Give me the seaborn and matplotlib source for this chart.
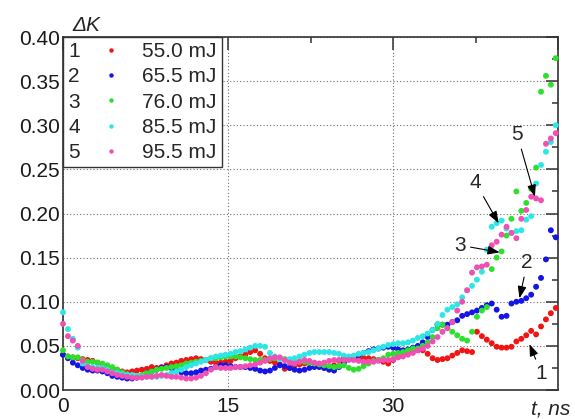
import numpy as np
import pandas as pd
import matplotlib
matplotlib.use("Agg")
import matplotlib.pyplot as plt
import seaborn as sns
from matplotlib.lines import Line2D
from matplotlib.ticker import MultipleLocator

# ---------------- data ----------------
dt_ns = 0.448
t = np.arange(101) * dt_ns

labels_num = ["1", "2", "3", "4", "5"]
energies = ["55.0 mJ", "65.5 mJ", "76.0 mJ", "85.5 mJ", "95.5 mJ"]
colors = ["#f01414", "#1414e6", "#2ee02e", "#2ee6e6", "#f050b4"]

k1 = [0.040, 0.038, 0.037, 0.036, 0.035, 0.034, 0.033, 0.031, 0.029, 0.027,
      0.025, 0.023, 0.021, 0.020, 0.021, 0.022, 0.023, 0.024, 0.026, 0.025,
      0.026, 0.028, 0.030, 0.031, 0.033, 0.034, 0.035, 0.036, 0.035, 0.034,
      0.032, 0.031, 0.031, 0.032, 0.033, 0.036, 0.038, 0.040, 0.043, 0.045,
      0.041, 0.036, 0.033, 0.031, 0.029, 0.024, 0.025, 0.028, 0.029, 0.030,
      0.031, 0.030, 0.027, 0.025, 0.024, 0.028, 0.033, 0.036, 0.037, 0.038,
      0.037, 0.036, 0.036, 0.035, 0.034, 0.032, 0.030, 0.034, 0.038, 0.042,
      0.043, 0.044, 0.045, 0.045, 0.041, 0.036, 0.034, 0.035, 0.036, 0.039,
      0.042, 0.045, 0.044, 0.043, 0.066, 0.061, 0.057, 0.053, 0.049, 0.048,
      0.048, 0.049, 0.055, 0.058, 0.062, 0.067, 0.063, 0.072, 0.080, 0.087, 0.093]

k2 = [0.040, 0.036, 0.031, 0.028, 0.025, 0.023, 0.022, 0.022, 0.021, 0.019,
      0.016, 0.015, 0.014, 0.013, 0.013, 0.014, 0.016, 0.019, 0.021, 0.023,
      0.025, 0.026, 0.025, 0.022, 0.020, 0.019, 0.019, 0.020, 0.022, 0.023,
      0.024, 0.026, 0.028, 0.028, 0.027, 0.026, 0.026, 0.026, 0.025, 0.024,
      0.022, 0.021, 0.022, 0.025, 0.028, 0.027, 0.025, 0.023, 0.022, 0.023,
      0.025, 0.026, 0.026, 0.025, 0.023, 0.022, 0.026, 0.031, 0.035, 0.037,
      0.040, 0.042, 0.044, 0.046, 0.047, 0.048, 0.049, 0.048, 0.046, 0.045,
      0.046, 0.048, 0.050, 0.054, 0.060, 0.068, 0.074, 0.074, 0.074, 0.077,
      0.079, 0.084, 0.086, 0.088, 0.090, 0.093, 0.096, 0.098, 0.091, 0.083,
      0.084, 0.098, 0.100, 0.101, 0.104, 0.108, 0.117, 0.127, 0.148, 0.181, 0.173]

k3 = [0.045, 0.038, 0.037, 0.037, 0.034, 0.032, 0.032, 0.031, 0.030, 0.028,
      0.026, 0.023, 0.020, 0.018, 0.016, 0.016, 0.017, 0.019, 0.021, 0.023,
      0.024, 0.025, 0.026, 0.027, 0.028, 0.030, 0.031, 0.032, 0.033, 0.034,
      0.036, 0.036, 0.037, 0.038, 0.038, 0.038, 0.037, 0.036, 0.035, 0.034,
      0.034, 0.034, 0.035, 0.036, 0.036, 0.035, 0.034, 0.033, 0.032, 0.032,
      0.031, 0.030, 0.029, 0.028, 0.027, 0.026, 0.027, 0.028, 0.025, 0.023,
      0.024, 0.027, 0.030, 0.033, 0.034, 0.036, 0.040, 0.041, 0.042, 0.043,
      0.045, 0.047, 0.047, 0.050, 0.054, 0.060, 0.070, 0.074, 0.070, 0.066,
      0.062, 0.058, 0.056, 0.066, 0.083, 0.090, 0.094, 0.137, 0.150, 0.157,
      0.175, 0.194, 0.225, 0.203, 0.212, 0.228, 0.252, 0.338, 0.356, 0.346, 0.376]

k4 = [0.088, 0.069, 0.058, 0.048, 0.030, 0.027, 0.026, 0.025, 0.025, 0.023,
      0.020, 0.019, 0.018, 0.017, 0.017, 0.016, 0.015, 0.015, 0.015, 0.015,
      0.016, 0.017, 0.019, 0.021, 0.023, 0.026, 0.028, 0.030, 0.032, 0.034,
      0.036, 0.038, 0.039, 0.040, 0.041, 0.043, 0.044, 0.046, 0.048, 0.050,
      0.050, 0.049, 0.042, 0.038, 0.035, 0.034, 0.035, 0.036, 0.038, 0.040,
      0.042, 0.043, 0.043, 0.043, 0.043, 0.042, 0.041, 0.039, 0.038, 0.039,
      0.041, 0.042, 0.043, 0.045, 0.047, 0.049, 0.051, 0.052, 0.053, 0.053,
      0.054, 0.056, 0.059, 0.061, 0.064, 0.068, 0.075, 0.085, 0.091, 0.094,
      0.097, 0.105, 0.113, 0.118, 0.125, 0.134, 0.159, 0.185, 0.189, 0.192,
      0.183, 0.178, 0.180, 0.181, 0.193, 0.197, 0.234, 0.255, 0.270, 0.281, 0.300]

k5 = [0.075, 0.061, 0.056, 0.050, 0.033, 0.026, 0.024, 0.023, 0.023, 0.021,
      0.019, 0.017, 0.016, 0.015, 0.014, 0.014, 0.014, 0.015, 0.015, 0.016,
      0.017, 0.016, 0.015, 0.015, 0.014, 0.013, 0.013, 0.014, 0.016, 0.019,
      0.023, 0.026, 0.025, 0.025, 0.025, 0.026, 0.026, 0.027, 0.028, 0.029,
      0.031, 0.033, 0.036, 0.037, 0.037, 0.034, 0.031, 0.030, 0.032, 0.034,
      0.033, 0.031, 0.030, 0.031, 0.033, 0.034, 0.034, 0.034, 0.034, 0.034,
      0.033, 0.032, 0.032, 0.032, 0.033, 0.034, 0.034, 0.035, 0.037, 0.038,
      0.040, 0.042, 0.045, 0.047, 0.050, 0.055, 0.060, 0.066, 0.070, 0.077,
      0.090, 0.100, 0.113, 0.133, 0.139, 0.140, 0.142, 0.164, 0.168, 0.176,
      0.185, 0.178, 0.172, 0.194, 0.204, 0.219, 0.217, 0.215, 0.279, 0.285, 0.291]

series = [k1, k2, k3, k4, k5]

# annotation anchors (label, text position, arrow tip) in data units
ann_labels = ["1", "2", "3", "4", "5"]
ann_text_t = [43.5, 42.2, 36.1, 37.5, 41.3]
ann_text_k = [0.019, 0.144, 0.164, 0.235, 0.289]
ann_tip_t = [42.4, 41.5, 39.7, 39.6, 42.9]
ann_tip_k = [0.052, 0.104, 0.156, 0.189, 0.219]

# ---------------- figure ----------------
sns.set_theme(style="white")
plt.rcParams["font.family"] = ["Liberation Sans", "DejaVu Sans"]

df = pd.concat(
    [pd.DataFrame({"t": t, "K": v, "series": e}) for e, v in zip(energies, series)],
    ignore_index=True,
)

fig = plt.figure(figsize=(5.75, 4.19), dpi=100)
ax = fig.add_axes([63 / 575, 1 - 390 / 419, 495 / 575, 353 / 419])

sns.scatterplot(data=df, x="t", y="K", hue="series", hue_order=energies,
                palette=colors, s=18, linewidth=0, legend=False, ax=ax,
                zorder=3, clip_on=False)

ax.set_xlim(0, 45)
ax.set_ylim(0, 0.40)
ax.set_xlabel("")
ax.set_ylabel("")
ax.set_xticks([0, 15, 30, 45])
ax.set_xticklabels(["0", "15", "30", ""])
ax.xaxis.set_minor_locator(MultipleLocator(7.5))
yt = np.arange(0, 0.401, 0.05)
ax.set_yticks(yt)
ax.set_yticklabels([f"{v:.2f}" for v in yt])
ax.yaxis.set_minor_locator(MultipleLocator(0.025))

ax.grid(True, which="major", linestyle=(0, (1, 2)), color="#707070", linewidth=0.8)
ax.set_axisbelow(True)

ax.tick_params(which="both", direction="in", top=True, right=True,
               width=1.1, color="#333333", labelsize=15, labelcolor="#1a1a1a")
ax.tick_params(which="major", length=9)
ax.tick_params(which="minor", length=4.5)
ax.tick_params(axis="x", pad=5)
ax.tick_params(axis="y", pad=2)
for sp in ax.spines.values():
    sp.set_color("#333333")
    sp.set_linewidth(1.2)

# axis labels placed like the original
ax.text(0.018, 1.005, "ΔK", transform=ax.transAxes, fontsize=15,
        style="italic", ha="left", va="bottom")
ax.text(1.025, -0.03, "t, ns", transform=ax.transAxes, fontsize=15,
        style="italic", ha="right", va="top")

# legend: number | marker | energy
blank = Line2D([], [], linestyle="none", marker=None)
num_h = [blank] * 5
mark_h = [Line2D([], [], linestyle="none", marker="o", markersize=3.2,
                 markerfacecolor=c, markeredgewidth=0) for c in colors]
lab_h = [blank] * 5
leg = ax.legend(num_h + mark_h + lab_h, labels_num + [""] * 5 + energies,
                ncol=3, loc="upper left", bbox_to_anchor=(0, 1),
                borderaxespad=0, handlelength=0, handletextpad=0,
                columnspacing=1.5, labelspacing=0.3, borderpad=0.25,
                fontsize=15, frameon=True, fancybox=False,
                edgecolor="#333333", framealpha=1)
leg.get_frame().set_linewidth(1.0)
leg.set_zorder(5)

for lab, tx, tk, px, pk in zip(ann_labels, ann_text_t, ann_text_k, ann_tip_t, ann_tip_k):
    ax.annotate(lab, xy=(px, pk), xytext=(tx, tk), fontsize=15,
                ha="center", va="center", zorder=6,
                arrowprops=dict(arrowstyle="-|>,head_length=0.6,head_width=0.22",
                                color="black", lw=0.8,
                                mutation_scale=12, shrinkA=1, shrinkB=0))

fig.savefig("out.png", dpi=100)
